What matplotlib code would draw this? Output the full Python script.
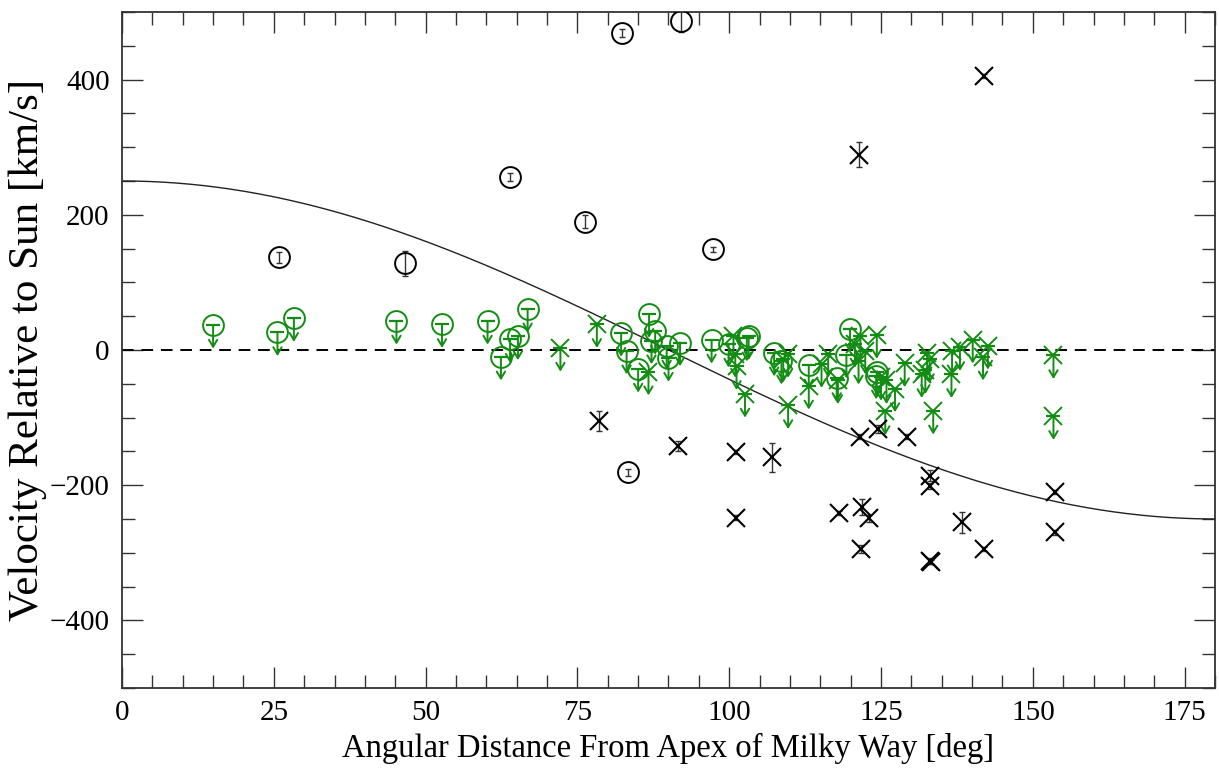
import numpy as np
import matplotlib
matplotlib.use("Agg")
import matplotlib.pyplot as plt
from matplotlib.ticker import MultipleLocator

# ---- data -------------------------------------------------------------
# detections, circle symbol: angle [deg], velocity [km/s], error
det_circ_x = [25.9, 46.6, 63.9, 76.3, 82.4, 92.1, 97.3, 83.3]
det_circ_y = [137, 128, 256, 190, 469, 486, 149, -181]
det_circ_e = [8, 19, 6, 10, 6, 15, 4, 5]

# detections, cross symbol
det_x_x = [78.5, 91.6, 101.1, 101.1, 107.1, 118.0, 121.4, 121.6, 121.9, 123.1,
           121.7, 124.5, 129.2, 133.0, 133.0, 133.0, 133.2, 138.3, 142.0, 142.0,
           153.7, 153.7]
det_x_y = [-105, -142, -151, -248, -159, -241, 289, -128, -232, -249,
           -294, -117, -128, -186, -201, -312, -314, -255, 405, -294,
           -210, -270]
det_x_e = [15, 8, 3, 4, 22, 3, 19, 3, 12, 5,
           6, 6, 4, 8, 4, 4, 3, 16, 3, 3,
           3, 3]

# upper limits, circle symbol
ul_circ_x = [15.0, 25.6, 28.3, 45.2, 52.7, 60.2, 62.4, 63.9, 65.2, 66.8,
             82.2, 83.1, 85.0, 86.8, 87.8, 87.2, 89.7, 90.0, 91.9, 97.1,
             99.9, 102.9, 103.2, 107.4, 108.6, 113.1, 117.7, 119.9, 119.3,
             124.3, 124.2]
ul_circ_y = [37, 26, 47, 43, 38, 43, -10, 16, 20, 61,
             25, -1, -28, 53, 28, 14, 6, -12, 11, 15,
             9, 18, 20, -4, -16, -22, -42, 31, -7,
             -32, -38]

# upper limits, cross symbol
ul_x_x = [72.2, 78.2, 86.7, 100.7, 101.0, 101.2, 102.6, 108.9, 109.7, 109.7,
          113.1, 115.2, 116.3, 117.9, 120.7, 121.6, 122.4, 121.3, 124.3, 125.0,
          125.9, 127.3, 125.7, 128.9, 131.7, 132.6, 133.0, 132.3, 133.6, 136.7,
          136.6, 138.0, 140.1, 141.8, 142.6, 153.4, 153.4]
ul_x_y = [3, 38, -32, 21, -6, -24, -65, -13, -6, -82,
          -53, -21, -6, -45, 9, 21, -1, -16, 22, -40,
          -45, -57, -91, -20, -36, -4, -14, -30, -90, -1,
          -36, 4, 15, -10, 6, -8, -98]

APEX_SPEED = 250.0          # model amplitude [km/s]
ARROW_LEN = 35.0            # length of the upper-limit arrows [km/s]

x_ticks = [0, 25, 50, 75, 100, 125, 150, 175]
y_ticks = [-400, -200, 0, 200, 400]

# ---- style ------------------------------------------------------------
GREEN = "#128c12"
plt.rcParams["font.family"] = ["Liberation Serif", "DejaVu Serif"]

fig = plt.figure(figsize=(12.19, 7.73), dpi=100)
ax = fig.add_axes([0.1001, 0.110, 0.8966, 0.8745])

# model curve and zero line
theta = np.linspace(0, 180, 400)
ax.plot(theta, APEX_SPEED * np.cos(np.radians(theta)), color="#222222", lw=1.0, zorder=2)
ax.axhline(0, color="black", lw=1.4, ls=(0, (6, 4)), zorder=2)

# upper limits (green)
for xs, ys, mk in ((ul_circ_x, ul_circ_y, "o"), (ul_x_x, ul_x_y, "x")):
    for xv, yv in zip(xs, ys):
        ax.annotate("", xy=(xv, yv - ARROW_LEN), xytext=(xv, yv),
                    arrowprops=dict(arrowstyle="->,head_length=0.5,head_width=0.3",
                                    color=GREEN, lw=1.4, shrinkA=0, shrinkB=0),
                    zorder=3)
    if mk == "o":
        ax.plot(xs, ys, ls="none", marker="o", ms=15, mfc="none", mec=GREEN, mew=1.4, zorder=3)
    else:
        ax.plot(xs, ys, ls="none", marker="x", ms=13, mec=GREEN, mew=1.4, zorder=3)
    ax.plot(xs, ys, ls="none", marker="_", ms=10, mec=GREEN, mew=1.6, zorder=3)

# detections (black)
ax.errorbar(det_circ_x, det_circ_y, yerr=det_circ_e, fmt="none", ecolor="#333333",
            elinewidth=1.0, capsize=2.5, capthick=1.0, zorder=4)
ax.plot(det_circ_x, det_circ_y, ls="none", marker="o", ms=15, mfc="none",
        mec="black", mew=1.4, zorder=4)
ax.errorbar(det_x_x, det_x_y, yerr=det_x_e, fmt="none", ecolor="#333333",
            elinewidth=1.0, capsize=2.5, capthick=1.0, zorder=4)
ax.plot(det_x_x, det_x_y, ls="none", marker="x", ms=13, mec="black", mew=1.5, zorder=4)

# axes
ax.set_xlim(0, 180)
ax.set_ylim(-500, 500)
ax.set_xticks(x_ticks)
ax.set_yticks(y_ticks)
ax.xaxis.set_minor_locator(MultipleLocator(5))
ax.yaxis.set_minor_locator(MultipleLocator(50))
ax.tick_params(which="both", direction="in", top=True, right=True,
               color="#333333", width=1.0, labelsize=21)
ax.tick_params(which="major", length=15, pad=9)
ax.tick_params(which="minor", length=9.5)
for s in ax.spines.values():
    s.set_linewidth(1.3)
    s.set_color("#333333")

ax.set_xlabel("Angular Distance From Apex of Milky Way [deg]", fontsize=23.5, labelpad=5)
ax.set_ylabel("Velocity Relative to Sun [km/s]", fontsize=31, labelpad=2)

fig.savefig("out.png", dpi=100)
